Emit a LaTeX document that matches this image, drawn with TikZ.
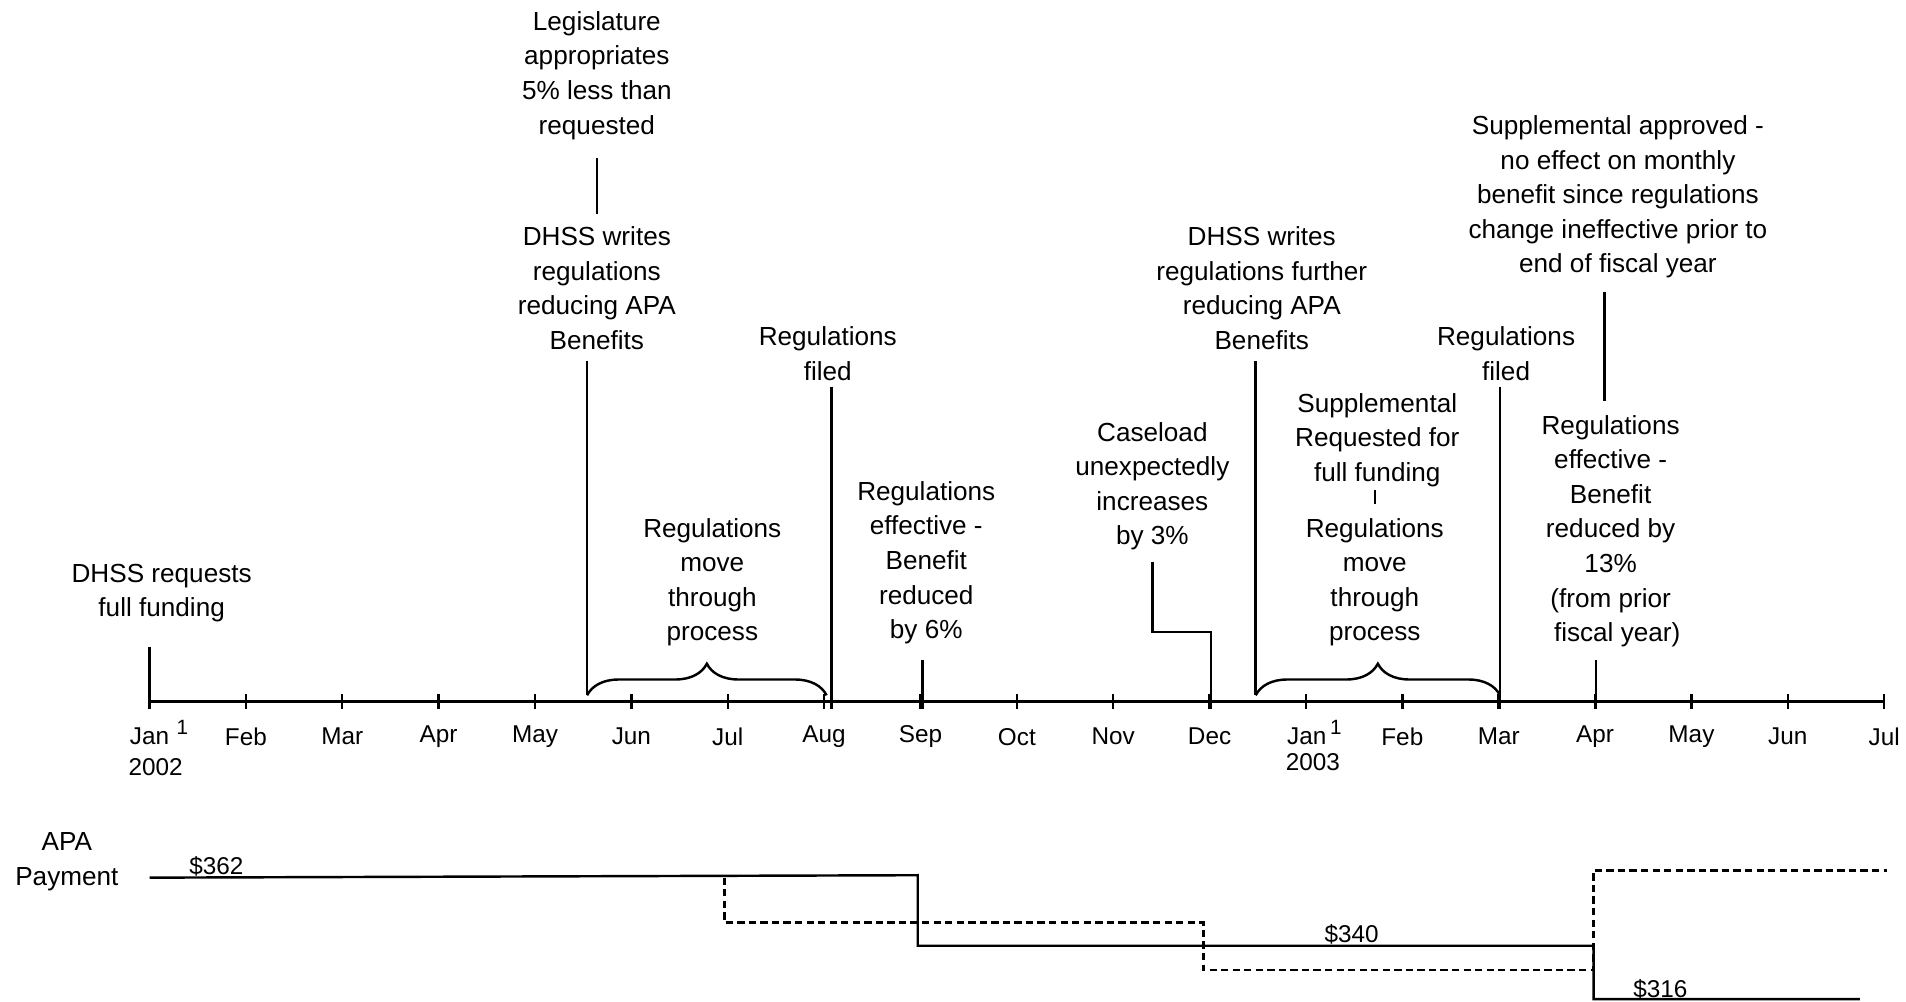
\documentclass[tikz,border=0pt]{standalone}
\usepackage{fontspec}
\setmainfont{Liberation Sans}
\usetikzlibrary{decorations.pathreplacing}
\begin{document}
\begin{tikzpicture}[x=1pt,y=-1pt,
  txt/.style={font=\fontsize{21.5}{28.5}\selectfont, align=center, inner sep=0pt},
  mon/.style={font=\fontsize{20}{24}\selectfont, inner sep=0pt},
  supx/.style={font=\fontsize{17}{18}\selectfont, inner sep=0pt},
  ln/.style={line width=2pt, black},
  dsh/.style={line width=2pt, black, dash pattern=on 6pt off 3.5pt},
  brc/.style={line width=2pt, decorate, decoration={brace, amplitude=26pt}}]
\useasboundingbox (0,0) rectangle (1568,824);
\fill[white] (0,0) rectangle (1568,824);

% axis
\foreach \i in {0,...,18} {
  \coordinate (m\i) at ({123+79.28*\i},577);
}
\draw[ln] (m0) -- (m18);
\foreach \i in {1,...,18} {
  \draw[ln] ([yshift=6pt]m\i) -- ([yshift=-6pt]m\i);
}

% month labels
\node[mon] (l0) at (123,606) {Jan};
\node[supx] (s0) at (150,598) {1};
\node[mon] (y0) at (128,631) {2002};
\foreach \i/\t in {1/Feb,2/Mar,3/Apr,4/May,5/Jun,6/Jul,7/Aug,8/Sep,9/Oct,10/Nov,11/Dec,13/Feb,14/Mar,15/Apr,16/May,17/Jun,18/Jul} {
  \node[mon] (l\i) at ({123+79.28*\i},606) {\t};
}
\node[mon] (l12) at (1075,606) {Jan};
\node[supx] (s12) at (1099,598) {1};
\node[mon] (y12) at (1080,627) {2003};

% event texts
\node[txt] (req) at (133,488) {DHSS requests\\full funding};
\node[txt] (leg) at (491,62) {Legislature\\appropriates\\5\% less than\\requested};
\node[txt] (wr1) at (491,237) {DHSS writes\\regulations\\reducing APA\\Benefits};
\node[txt] (fil1) at (681,291) {Regulations\\filed};
\node[txt] (mv1) at (586,479) {Regulations\\move\\through\\process};
\node[txt] (eff1) at (762,463) {Regulations\\effective -\\Benefit\\reduced\\by 6\%};
\node[txt] (case) at (948,400) {Caseload\\unexpectedly\\increases\\by 3\%};
\node[txt] (wr2) at (1038,237) {DHSS writes\\regulations further\\reducing APA\\Benefits};
\node[txt] (fil2) at (1239,291) {Regulations\\filed};
\node[txt] (sup) at (1133,362) {Supplemental\\Requested for\\full funding};
\node[txt] (mv2) at (1131,479) {Regulations\\move\\through\\process};
\node[txt] (supa) at (1331,162) {Supplemental approved -\\no effect on monthly\\benefit since regulations\\change ineffective prior to\\end of fiscal year};
\node[txt] (eff2) at (1325,437) {Regulations\\effective -\\Benefit\\reduced by\\13\%\\(from prior\\\hspace{0.5em}fiscal year)};

% connector coordinates
\coordinate (a0) at (123,532);  \coordinate (b0) at (123,583);
\coordinate (a1) at (483,297);  \coordinate (b1) at (483,572);
\coordinate (a2) at (684,318);  \coordinate (b2) at (684,583);
\coordinate (b2t) at (680,572);
\coordinate (a3) at (759,543);  \coordinate (b3) at (759,583);
\coordinate (a4) at (948,462);  \coordinate (c4) at (996,520); \coordinate (b4) at (996,583);
\coordinate (a5) at (1033,297); \coordinate (b5) at (1033,572);
\coordinate (a6) at (1234,318); \coordinate (b6) at (1234,583);
\coordinate (b6t) at (1234,572);
\coordinate (a7) at (1313,543); \coordinate (b7) at (1313,583);
\coordinate (a8) at (1320,240); \coordinate (b8) at (1320,330);
\coordinate (a9) at (1131,403); \coordinate (b9) at (1131,415);
\coordinate (a10) at (491,130); \coordinate (b10) at (491,176);

\draw[ln] (a0) -- (b0);
\draw[ln] (a1) -- (b1);
\draw[ln] (a2) -- (b2);
\draw[ln] (a3) -- (b3);
\draw[ln] (a4) |- (c4) -- (b4);
\draw[ln] (a5) -- (b5);
\draw[ln] (a6) -- (b6);
\draw[ln] (a7) -- (b7);
\draw[ln] (a8) -- (b8);
\draw[line width=1.2pt] (a9) -- (b9);
\draw[ln] (a10) -- (b10);

% braces
\draw[brc] (b1) -- (b2t);
\draw[brc] (b5) -- (b6t);

% payment chart
\node[txt] (apa) at (55,709) {APA\\Payment};
\coordinate (p0) at (123,722);
\coordinate (p1) at (755,720);
\coordinate (p2) at (755,778);
\coordinate (p3) at (1311,778);
\coordinate (p4) at (1311,822);
\coordinate (p5) at (1530,822);
\draw[ln] (p0) -- (p1) -- (p2) -- (p3) -- (p4) -- (p5);

\coordinate (d0) at (596,722);
\coordinate (d1) at (596,759);
\coordinate (d2) at (990,759);
\coordinate (d3) at (990,798);
\coordinate (d4) at (1311,798);
\coordinate (d5) at (1311,716);
\coordinate (d6) at (1552,716);
\draw[dsh] (d0) -- (d1) -- (d2) -- (d3) -- (d4) -- (d5) -- (d6);

\node[mon] (v1) at (178,713) {\$362};
\node[mon] (v2) at (1112,769) {\$340};
\node[mon] (v3) at (1366,814) {\$316};
\end{tikzpicture}
\end{document}
